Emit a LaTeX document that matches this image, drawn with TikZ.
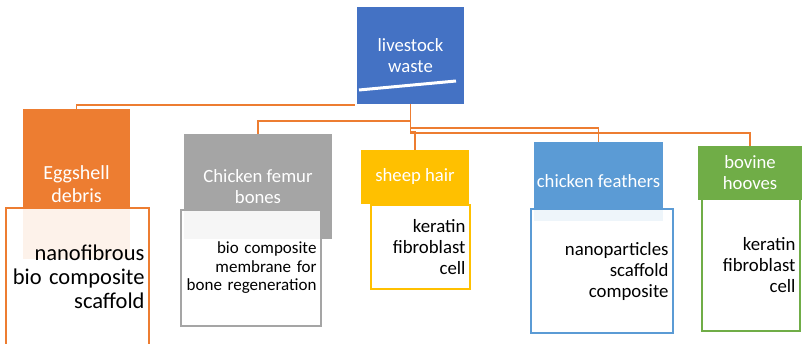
\documentclass[tikz,border=0pt]{standalone}
\usepackage{fontspec}
\setmainfont{Carlito}
\usepackage{tikz}
\usetikzlibrary{positioning,calc}
\definecolor{Royal}{HTML}{4472C4}
\definecolor{Orange}{HTML}{ED7D31}
\definecolor{Ash}{HTML}{A5A5A5}
\definecolor{Amber}{HTML}{FFC000}
\definecolor{Sky}{HTML}{5B9BD5}
\definecolor{Leaf}{HTML}{70AD47}
\tikzset{
  every node/.append style={inner sep=0pt},
  head/.style={fill=#1, text=white, align=center,
               font=\fontsize{18.7}{21}\selectfont},
  card/.style={draw=#1, line width=1.3pt, fill=white, fill opacity=0.9,
               text opacity=1, text=black, align=right, inner xsep=4.5pt,
               font=\fontsize{18.8}{21}\selectfont},
  link/.style={draw=Orange, line width=1.4pt},
}
\begin{document}
\begin{tikzpicture}[x=1pt, y=-1pt]
  \useasboundingbox (0,0) rectangle (802,344);
  % top of the tree
  \node[head=Royal, minimum width=107, minimum height=97] (root) at (410.5,55.5) {livestock\\waste};
  \draw[white, line width=3pt] (359,90) -- (456,81);
  % sources
  \node[head=Orange, minimum width=107, minimum height=150,
        font=\fontsize{20}{23}\selectfont] (egg) at (76.5,184) {Eggshell\\debris};
  \node[head=Ash, minimum width=148, minimum height=105] (femur) at (258,186.5) {Chicken femur\\bones};
  \node[head=Amber, minimum width=108, minimum height=54] (sheep) at (415,177) {sheep hair};
  \node[head=Sky, minimum width=129, minimum height=79] (feath) at (598.5,181.5) {chicken feathers};
  \node[head=Leaf, minimum width=104, minimum height=54] (bovine) at (750,173) {bovine\\hooves};
  % products
  \node[card=Orange, text width=134, minimum height=138,
        font=\fontsize{22.5}{24}\selectfont] (eggout) at (77.5,277) {nanofibrous\\bio composite\\scaffold};
  \node[card=Ash, text width=131, minimum height=116,
        font=\fontsize{17}{18.5}\selectfont] (femurout) at (251,268) {bio composite\\membrane for\\bone regeneration};
  \node[card=Amber, text width=90, minimum height=84] (sheepout) at (420.5,247) {keratin\\fibroblast\\cell};
  \node[card=Sky, text width=133, minimum height=124] (feathout) at (602,271) {nanoparticles\\scaffold\\composite};
  \node[card=Leaf, text width=89, minimum height=132] (bovineout) at (751,265) {keratin\\fibroblast\\cell};
  % connectors
  \draw[link] (root.south west) ++(-2,1) -| (egg.north);
  \draw[link] (root.south) -- ++(0,17) -| (femur.north);
  \draw[link] (root.south) -- ++(0,28) -| (sheep.north);
  \draw[link] (root.south) -- ++(0,24) -| (feath.north);
  \draw[link] (root.south) -- ++(0,29) -| (bovine.north);
\end{tikzpicture}
\end{document}
